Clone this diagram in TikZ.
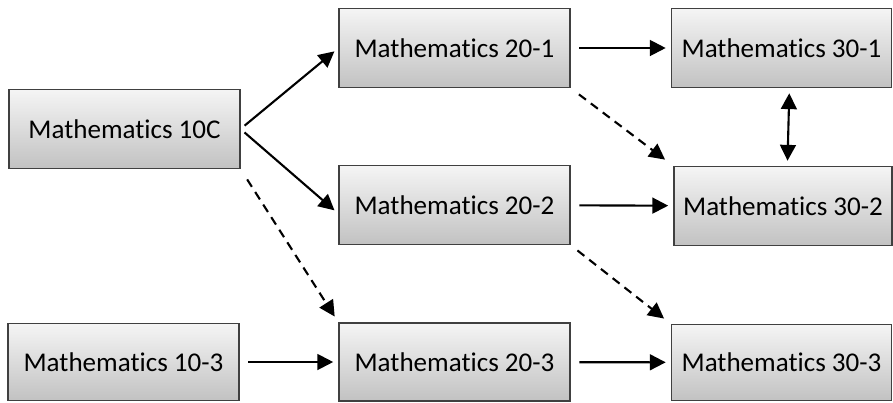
\documentclass[tikz,border=0pt]{standalone}
\usepackage{fontspec}
\setmainfont[Ligatures=NoCommon]{Carlito}
\usetikzlibrary{arrows.meta,positioning}
\tikzset{
  course/.style ={rectangle,draw=black!75,line width=0.6pt,top color=gray!8,
                  bottom color=gray!48,minimum width=4.62cm,minimum height=1.58cm,
                  align=center,font=\fontsize{15.4}{18}\selectfont},
  course30/.style={course,minimum width=4.4cm},
  arr/.style     ={-{Triangle[length=9pt,width=9pt]},line width=1.2pt},
  darr/.style    ={{Triangle[length=9pt,width=9pt]}-{Triangle[length=9pt,width=9pt]},line width=1.2pt},
  optarr/.style  ={arr,dash pattern=on 5pt off 3.5pt}
}
\begin{document}
\begin{tikzpicture}
  \useasboundingbox (0,0) rectangle (17.86,8.04);

  % Grade 10
  \node (m10c) at (2.49, 5.46) [course] {Mathematics 10C};
  \node (m103) at (2.47, 0.80) [course, minimum height=1.54cm] {Mathematics 10-3};

  % Grade 20
  \node (m201) at (9.09, 7.08) [course] {Mathematics 20-1};
  \node (m202) at (9.09, 3.94) [course] {Mathematics 20-2};
  \node (m203) at (9.09, 0.80) [course, minimum height=1.56cm] {Mathematics 20-3};

  % Grade 30
  \node (m301) at (15.63, 7.08) [course30] {Mathematics 30-1};
  \node (m302) at (15.66, 3.92) [course30, minimum width=4.36cm] {Mathematics 30-2};
  \node (m303) at (15.63, 0.79) [course30, minimum height=1.52cm] {Mathematics 30-3};

  % Paths
  \draw[arr, shorten <=3pt, shorten >=3pt] (m10c.east) -- (m201.west);
  \draw[arr, shorten <=3pt, shorten >=3pt] (m10c.east) -- ([yshift=-5pt]m202.west);
  \draw[arr, shorten <=5pt, shorten >=3pt] (m201) -- (m301);
  \draw[arr, shorten <=5pt, shorten >=3pt] (m202) -- (m302);
  \draw[arr, shorten <=5pt, shorten >=3pt] (m103) -- (m203);
  \draw[arr, shorten <=5pt, shorten >=3pt] (m203) -- (m303);
  \draw[darr, shorten <=3pt, shorten >=3pt] ([xshift=4.5pt]m301.south) -- ([xshift=2.5pt]m302.north);

  % Optional transfers
  \draw[optarr, shorten <=6pt, shorten >=6pt] (m201.south east) -- (m302.north west);
  \draw[optarr, shorten <=5pt, shorten >=5pt] (m202.south east) -- (m303.north west);
  \draw[optarr, shorten <=7pt, shorten >=4pt] (m10c.south east) -- (m203.north west);
\end{tikzpicture}
\end{document}
